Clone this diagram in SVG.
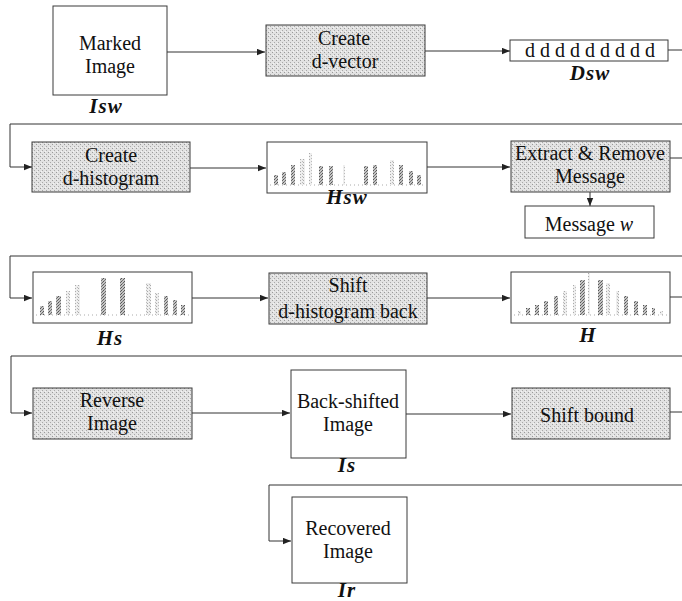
<svg xmlns="http://www.w3.org/2000/svg" width="682" height="601" viewBox="0 0 682 601">
<style>
.box{fill:#fff;stroke:#3a3a3a;stroke-width:1}
.sh{fill:url(#shade);stroke:#3a3a3a;stroke-width:1}
.t{font-family:'Liberation Serif','DejaVu Serif',serif;font-size:20px;fill:#111;text-anchor:middle}
.lb{font-family:'Liberation Serif','DejaVu Serif',serif;font-size:21px;font-weight:bold;font-style:italic;fill:#111;text-anchor:middle;letter-spacing:1px}
.c{fill:none;stroke:#333;stroke-width:1}
.bd{fill:url(#barD)}
.bl{fill:url(#barL)}
.base{stroke:#aaa;stroke-width:1;stroke-dasharray:1 3}
</style>
<defs>
<pattern id="shade" width="4" height="4" patternUnits="userSpaceOnUse">
<rect width="4" height="4" fill="#e2e2e2"/>
<rect x="0" y="0" width="1" height="1" fill="#9a9a9a"/>
<rect x="2" y="2" width="1" height="1" fill="#a8a8a8"/>
<rect x="1" y="3" width="1" height="1" fill="#f4f4f4"/>
</pattern>
<pattern id="barD" width="3" height="3" patternUnits="userSpaceOnUse">
<rect width="3" height="3" fill="#c4c4c4"/>
<rect x="0" y="0" width="1" height="1" fill="#666"/>
<rect x="2" y="1" width="1" height="1" fill="#777"/>
<rect x="1" y="2" width="1" height="1" fill="#555"/>
</pattern>
<pattern id="barL" width="3" height="3" patternUnits="userSpaceOnUse">
<rect width="3" height="3" fill="#eee"/>
<rect x="0" y="0" width="1" height="1" fill="#aaa"/>
<rect x="2" y="2" width="1" height="1" fill="#bbb"/>
</pattern>
<marker id="ah" viewBox="0 0 10 8" refX="10" refY="4" markerWidth="8" markerHeight="7" markerUnits="userSpaceOnUse" orient="auto">
<path d="M0,0 L10,4 L0,8 z" fill="#222"/>
</marker>
</defs>

<g id="connectors">
<path class="c" d="M167,52 H265" marker-end="url(#ah)"/>
<path class="c" d="M425,51 H510" marker-end="url(#ah)"/>
<path class="c" d="M668,50 H682"/>
<path class="c" d="M682,124 H10 V167 H32" marker-end="url(#ah)"/>
<path class="c" d="M190,168 H266" marker-end="url(#ah)"/>
<path class="c" d="M427,167 H510" marker-end="url(#ah)"/>
<path class="c" d="M670,158 H682"/>
<path class="c" d="M590,192 V206" marker-end="url(#ah)"/>
<path class="c" d="M682,256 H10 V298 H32" marker-end="url(#ah)"/>
<path class="c" d="M192,298 H268" marker-end="url(#ah)"/>
<path class="c" d="M427,298 H510" marker-end="url(#ah)"/>
<path class="c" d="M670,297 H682"/>
<path class="c" d="M682,356 H11 V413 H32" marker-end="url(#ah)"/>
<path class="c" d="M192,413 H290" marker-end="url(#ah)"/>
<path class="c" d="M406,414 H511" marker-end="url(#ah)"/>
<path class="c" d="M670,412 H682"/>
<path class="c" d="M682,485 H269 V541 H291" marker-end="url(#ah)"/>
</g>

<g id="marked-image">
<rect class="box" x="53" y="6" width="114" height="89"/>
<text class="t" x="110" y="50">Marked</text>
<text class="t" x="110" y="73">Image</text>
<text class="lb" x="106" y="113">Isw</text>
</g>

<g id="create-d-vector">
<rect class="sh" x="266" y="25" width="159" height="51"/>
<text class="t" x="344" y="45">Create</text>
<text class="t" x="345" y="68">d-vector</text>
</g>

<g id="dsw">
<rect class="box" x="510" y="40" width="158" height="21"/>
<text class="t" x="590" y="57">d d d d d d d d d</text>
<text class="lb" x="590" y="80">Dsw</text>
</g>

<g id="create-d-histogram">
<rect class="sh" x="32" y="142" width="158" height="50"/>
<text class="t" x="111" y="162">Create</text>
<text class="t" x="111" y="185">d-histogram</text>
</g>

<g id="hsw">
<rect class="box" x="267" y="142" width="160" height="51"/>
<line class="base" x1="270" y1="185" x2="424" y2="185"/>
<rect class="bd" x="274" y="175" width="4" height="10"/>
<rect class="bd" x="282" y="172" width="4" height="13"/>
<rect class="bd" x="291" y="165" width="4" height="20"/>
<rect class="bl" x="300" y="159" width="5" height="26"/>
<rect class="bl" x="309" y="153" width="3" height="32"/>
<rect class="bd" x="319" y="166" width="4" height="19"/>
<rect class="bd" x="329" y="166" width="4" height="19"/>
<rect class="bl" x="343" y="165" width="2" height="20"/>
<rect class="bd" x="364" y="166" width="4" height="19"/>
<rect class="bd" x="373" y="165" width="4" height="20"/>
<rect class="bl" x="390" y="160" width="4" height="25"/>
<rect class="bd" x="399" y="165" width="4" height="20"/>
<rect class="bd" x="409" y="171" width="4" height="14"/>
<rect class="bd" x="417" y="175" width="4" height="10"/>
<text class="lb" x="347" y="204">Hsw</text>
</g>

<g id="extract-remove">
<rect class="sh" x="511" y="141" width="159" height="51"/>
<text class="t" x="590" y="160">Extract &amp; Remove</text>
<text class="t" x="590" y="183">Message</text>
</g>

<g id="message-w">
<rect class="box" x="525" y="206" width="129" height="32"/>
<text class="t" x="589" y="231">Message <tspan font-style="italic">w</tspan></text>
</g>

<g id="hs">
<rect class="box" x="33" y="272" width="159" height="51"/>
<line class="base" x1="36" y1="315" x2="189" y2="315"/>
<rect class="bd" x="40" y="306" width="4" height="9"/>
<rect class="bd" x="48" y="301" width="4" height="14"/>
<rect class="bd" x="56" y="296" width="5" height="19"/>
<rect class="bl" x="66" y="291" width="4" height="24"/>
<rect class="bl" x="75" y="285" width="5" height="30"/>
<rect class="bd" x="101" y="278" width="5" height="37"/>
<rect class="bd" x="120" y="278" width="5" height="37"/>
<rect class="bl" x="146" y="283" width="5" height="32"/>
<rect class="bl" x="155" y="293" width="4" height="22"/>
<rect class="bd" x="164" y="296" width="4" height="19"/>
<rect class="bd" x="173" y="300" width="4" height="15"/>
<rect class="bd" x="181" y="305" width="4" height="10"/>
<text class="lb" x="110" y="345">Hs</text>
</g>

<g id="shift-back">
<rect class="sh" x="269" y="273" width="158" height="51"/>
<text class="t" x="348" y="292">Shift</text>
<text class="t" x="348" y="318">d-histogram back</text>
</g>

<g id="h">
<rect class="box" x="511" y="272" width="159" height="51"/>
<line class="base" x1="514" y1="315" x2="667" y2="315"/>
<rect class="bl" x="518" y="311" width="3" height="4"/>
<rect class="bd" x="526" y="308" width="4" height="7"/>
<rect class="bd" x="535" y="305" width="4" height="10"/>
<rect class="bd" x="544" y="301" width="4" height="14"/>
<rect class="bd" x="554" y="296" width="4" height="19"/>
<rect class="bl" x="563" y="291" width="4" height="24"/>
<rect class="bl" x="573" y="285" width="3" height="30"/>
<rect class="bd" x="580" y="280" width="5" height="35"/>
<rect class="bl" x="588" y="273" width="2" height="42"/>
<rect class="bd" x="598" y="280" width="5" height="35"/>
<rect class="bl" x="606" y="283" width="4" height="32"/>
<rect class="bl" x="616" y="291" width="3" height="24"/>
<rect class="bd" x="624" y="296" width="4" height="19"/>
<rect class="bd" x="634" y="301" width="4" height="14"/>
<rect class="bd" x="643" y="305" width="4" height="10"/>
<rect class="bd" x="652" y="308" width="3" height="7"/>
<rect class="bl" x="660" y="311" width="3" height="4"/>
<text class="lb" x="588" y="342">H</text>
</g>

<g id="reverse-image">
<rect class="sh" x="33" y="388" width="159" height="51"/>
<text class="t" x="112" y="407">Reverse</text>
<text class="t" x="112" y="430">Image</text>
</g>

<g id="back-shifted">
<rect class="box" x="291" y="370" width="115" height="88"/>
<text class="t" x="348" y="408">Back-shifted</text>
<text class="t" x="348" y="431">Image</text>
<text class="lb" x="347" y="472">Is</text>
</g>

<g id="shift-bound">
<rect class="sh" x="512" y="388" width="158" height="51"/>
<text class="t" x="587" y="422">Shift bound</text>
</g>

<g id="recovered-image">
<rect class="box" x="292" y="497" width="115" height="86"/>
<text class="t" x="348" y="535">Recovered</text>
<text class="t" x="348" y="558">Image</text>
<text class="lb" x="347" y="596.5" font-size="19">Ir</text>
</g>
</svg>
